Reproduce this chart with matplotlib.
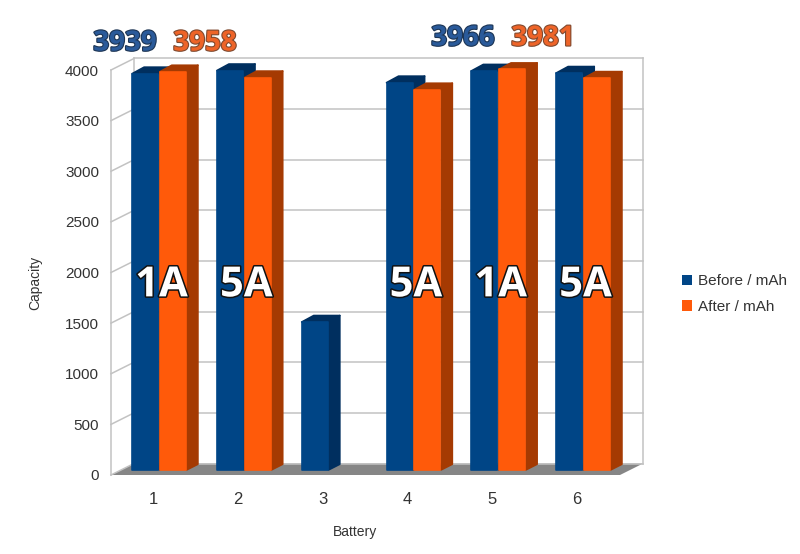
import matplotlib
matplotlib.use("Agg")
import matplotlib.pyplot as plt
import matplotlib.patheffects as pe
from matplotlib.patches import Patch, Polygon

# values
batteries = [1, 2, 3, 4, 5, 6]
before = [3939, 3970, 1480, 3850, 3966, 3945]
after = [3958, 3900, None, 3780, 3981, 3895]
y_ticks = [0, 500, 1000, 1500, 2000, 2500, 3000, 3500, 4000]
rate_labels = ["1A", "5A", None, "5A", "1A", "5A"]
series_names = ["Before / mAh", "After / mAh"]

W, H = 800, 554
STEP = 84.8  # pixels between two batteries
BLUE, BLUE_DARK = "#004586", "#002f5f"
ORANGE, ORANGE_DARK = "#ff5a0a", "#a53a02"
GRID = "#c2c2c2"

plt.rcParams["font.family"] = ["Liberation Sans", "DejaVu Sans"]
fig = plt.figure(figsize=(W / 100, H / 100), dpi=100)


def axes_px(left, right, top, bottom):
    # axes box given in picture pixels
    return fig.add_axes([left / W, 1 - bottom / H, (right - left) / W, (bottom - top) / H])


# frame axes: the front plane, carries the ticks and the walls
xlim = (0.505, 6.507)
ax = axes_px(111, 620, 70, 475)
ax.set_xlim(*xlim)
ax.set_ylim(0, 4000)
ax.patch.set_visible(False)
for s in ax.spines.values():
    s.set_visible(False)
ax.set_xticks(batteries)
ax.set_yticks(y_ticks)
ax.tick_params(axis="both", length=0, labelsize=11, labelcolor="#333333")
ax.tick_params(axis="y", pad=8.6)
ax.tick_params(axis="x", pad=12.2, labelsize=12)

# depth of the walls, in data units
wall_dx = 23 / STEP
wall_dy = 11.5 / 0.10125

ax.plot([xlim[0], xlim[0]], [0, 4000], color=GRID, lw=1.1, clip_on=False)
ax.plot([xlim[0] + wall_dx] * 2, [wall_dy, 4000 + wall_dy], color=GRID, lw=1.1, clip_on=False)
ax.plot([xlim[1] + wall_dx] * 2, [wall_dy, 4000 + wall_dy], color=GRID, lw=1.1, clip_on=False)
for t in y_ticks:
    ax.plot([xlim[0], xlim[0] + wall_dx], [t, t + wall_dy], color=GRID, lw=1.1, clip_on=False)
    ax.plot([xlim[0] + wall_dx, xlim[1] + wall_dx], [t + wall_dy, t + wall_dy], color=GRID, lw=1.1, clip_on=False)
# grey floor
ax.add_patch(Polygon([(xlim[0], 0), (xlim[1], 0), (xlim[1] + wall_dx, wall_dy), (xlim[0] + wall_dx, wall_dy)],
                     closed=True, facecolor="#868686", edgecolor="none", clip_on=False))

# bar axes: the plane of the bar fronts, slightly behind the frame
bx = axes_px(111, 620, 66.7, 470.7)
bx.set_xlim(0.434, 6.436)
bx.set_ylim(0, 4000)
bx.axis("off")

bar_w = 27.7 / STEP
bar_dx = 12 / STEP
bar_dy = 6.5 / 0.101
inset = 0.8 / STEP  # the round edge adds this much on each side


def draw_bar(x, h, face, dark):
    # front, side and top of one 3d looking bar, corners rounded with a thick round join
    left, right = x - bar_w / 2, x + bar_w / 2
    h_in = h - 8
    style = dict(closed=True, lw=1.2, joinstyle="round", clip_on=False)
    bx.add_patch(Polygon([(left + inset, h_in), (right - inset, h_in), (right + bar_dx - inset, h_in + bar_dy),
                          (left + bar_dx + inset, h_in + bar_dy)], facecolor=dark, edgecolor=dark, **style))
    bx.add_patch(Polygon([(right, 8), (right + bar_dx - inset, bar_dy), (right + bar_dx - inset, h_in + bar_dy),
                          (right, h_in)], facecolor=dark, edgecolor=dark, **style))
    bars = bx.bar(x, h - 16, bottom=8, width=bar_w - 2 * inset, color=face, edgecolor=face, linewidth=1.2, clip_on=False)
    bars[0].set_joinstyle("round")


for b, v1, v2 in zip(batteries, before, after):
    draw_bar(b - bar_w / 2, v1, BLUE, BLUE_DARK)
    if v2 is not None:
        draw_bar(b + bar_w / 2, v2, ORANGE, ORANGE_DARK)

# white rate labels across the bars
for b, lab in zip(batteries, rate_labels):
    if lab:
        bx.text(b + 0.03, 1830, lab, ha="center", va="center", fontsize=30, fontweight="bold",
                family="Open Sans", color="white", zorder=10,
                path_effects=[pe.withStroke(linewidth=2.2, foreground="#111111")])


# measured capacities above the chart
def top_label(px, py, txt, fill, edge):
    fig.text(px / W, 1 - py / H, txt, ha="center", va="center", fontsize=20, fontweight="bold",
             family="Open Sans", color=fill,
             path_effects=[pe.withStroke(linewidth=1.6, foreground=edge)])


top_label(125, 43, "3939", "#2a5a9a", "#1d3554")
top_label(205, 43, "3958", "#ee6428", "#7f4a30")
top_label(463, 38, "3966", "#2a5a9a", "#1d3554")
top_label(543, 38, "3981", "#ee6428", "#7f4a30")

fig.text(355 / W, 1 - 532 / H, "Battery", ha="center", va="center", fontsize=10, color="#333333")
fig.text(35 / W, 1 - 283 / H, "Capacity", ha="center", va="center", rotation=90, fontsize=10, color="#333333")

handles = [Patch(facecolor=BLUE, label=series_names[0]), Patch(facecolor=ORANGE, label=series_names[1])]
fig.legend(handles=handles, loc="center left", bbox_to_anchor=(677 / W, 1 - 294 / H), frameon=False,
           fontsize=11, handlelength=0.68, handleheight=0.68, handletextpad=0.4, labelspacing=0.75,
           labelcolor="#333333", borderpad=0.3, borderaxespad=0)

fig.savefig("out.png", dpi=100, facecolor="white")
